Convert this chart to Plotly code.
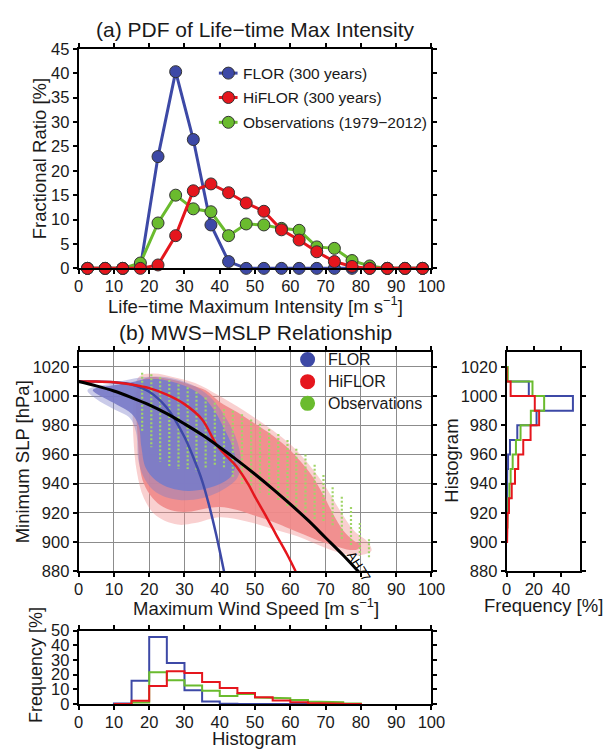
import plotly.graph_objects as go

W, H = 615, 756
FONT = "Liberation Sans, Arial, Helvetica, sans-serif"

# ---------------- (a) PDF of life-time maximum intensity ----------------
lmi_bins = [2.5, 7.5, 12.5, 17.5, 22.5, 27.5, 32.5, 37.5, 42.5, 47.5,
            52.5, 57.5, 62.5, 67.5, 72.5, 77.5, 82.5, 87.5, 92.5, 97.5]
pdf_flor = [0, 0, 0, 0.2, 22.9, 40.3, 26.4, 8.9, 1.4, 0,
            0, 0, 0, 0, 0, 0, 0, 0, 0, 0]
pdf_hiflor = [0, 0, 0, 0, 0.7, 6.7, 15.9, 17.3, 15.5, 13.4,
              11.7, 7.9, 5.8, 3.4, 1.4, 0.4, 0, 0, 0, 0]
pdf_obs = [0, 0, 0, 1.1, 9.3, 15.0, 12.2, 11.6, 6.7, 9.1,
           8.9, 8.2, 7.8, 4.4, 4.1, 1.6, 0.5, 0, 0, 0]

# ---------------- (b) MWS-MSLP relationship ----------------
# envelopes of the simulated storm clouds (wind m/s, pressure hPa)
hiflor_outer_x = [15.5, 17, 21, 27, 33, 40, 50, 60, 66, 70, 74, 78, 82, 83,
                  80, 75, 70, 62, 55, 48, 40, 33, 28, 22, 18.5, 16.5, 15.5]
hiflor_outer_y = [995, 1013, 1015.5, 1013, 1009, 1000, 985, 967, 951, 938, 922,
                  908, 900, 894, 891, 892, 896, 904, 909, 914, 917, 913, 912,
                  918, 930, 948, 972]
hiflor_core_x = [16.5, 18, 20, 24, 28, 32, 36, 40, 45, 50, 55, 60, 63, 66, 69,
                 72, 75, 78, 80, 79, 76, 72, 68, 64, 60, 55, 50, 45, 40, 36,
                 32, 28, 24, 21, 18.5, 17.3, 16.8, 16.3]
hiflor_core_y = [1004, 1011, 1013, 1012.5, 1010.5, 1007.5, 1004, 996, 989, 981,
                 973, 963, 955, 946, 934, 920, 908, 901, 898, 895, 895, 898,
                 901, 905, 909, 914, 918, 922, 924, 923, 921, 921, 924, 930,
                 940, 952, 970, 990]
flor_outer_x = [2.5, 10, 18, 25, 32, 37, 41, 44.5, 46, 45, 41, 35, 28, 22, 19,
                17, 16.3, 14.5, 10, 5]
flor_outer_y = [1004, 1009, 1013, 1013, 1008, 1000, 988, 972, 956, 944, 936,
                930, 929, 934, 942, 955, 975, 985, 991, 998]
flor_core_x = [5, 10, 15, 19, 23, 27, 31, 35, 38.5, 41, 43.5, 44.5, 43.5, 41,
               36, 31, 26, 22, 19, 17.8, 17, 15, 11, 7, 4]
flor_core_y = [1005.5, 1007.5, 1009.5, 1011.5, 1011.5, 1009.5, 1006, 1000, 990,
               979, 966, 955, 946, 941, 936.5, 935, 937, 942, 951, 965, 980,
               988, 994, 999, 1004]

# observed best-track columns (wind m/s, pressure range hPa)
obs_wind = [18.0, 20.6, 23.1, 25.7, 28.3, 30.9, 33.4, 36.0, 38.6, 41.2, 43.7,
            46.3, 48.9, 51.4, 54.0, 56.6, 59.2, 61.7, 64.3, 66.9, 69.4, 72.0,
            74.6, 77.2, 79.7, 82.3]
obs_pmax = [1016, 1015, 1013, 1011, 1008, 1006, 1003, 999, 995.5, 991, 990,
            987.5, 984, 981, 977.5, 974, 970, 964, 960, 953, 946, 937.5, 931,
            924, 913, 902]
obs_pmin = [975, 965, 955, 952, 950, 950, 948, 950, 953, 950, 944, 940, 937.5,
            934, 931, 928.6, 924, 922, 919.7, 915, 913, 910.8, 902, 897.4,
            890.7, 888.5]

# wind-pressure fits
fit_flor_x = [0, 5, 10, 15, 20, 25, 30, 33, 35, 37, 39, 41.2]
fit_flor_y = [1010, 1010, 1009.5, 1008, 1003, 992, 972, 955, 942, 925, 905, 880]
fit_hiflor_x = [0, 5, 10, 15, 20, 25, 30, 35, 39.3, 45, 48, 50, 53.3, 56, 59, 61.5]
fit_hiflor_y = [1010, 1010, 1009.5, 1008, 1005.5, 1001, 994.5, 984, 966, 951,
                940, 931, 917, 905, 892, 880]
fit_ah77_x = [0, 5, 10, 15, 20, 25, 30, 35, 40, 45, 50, 55, 60, 65, 70, 75, 80]
fit_ah77_y = [1010, 1007, 1003.5, 999, 994, 988, 981, 973.5, 965, 956, 946.5,
              936.5, 926, 915, 903, 891, 878]

# pressure histogram (bins of 10 hPa, top to bottom)
slp_edges = [1020, 1010, 1000, 990, 980, 970, 960, 950, 940, 930, 920, 910, 900]
slp_flor = [0, 16.3, 48.8, 22.0, 7.8, 2.4, 1.0, 0.4, 0.2, 0.1, 0, 0]
slp_hiflor = [0, 2.9, 20.7, 23.9, 17.6, 12.2, 8.5, 6.1, 3.7, 1.7, 0.7, 0.3]
slp_obs = [0.8, 19.0, 27.6, 17.8, 10.2, 6.8, 4.4, 2.9, 2.0, 1.2, 0.5, 0.1]

# wind histogram (bins of 5 m/s)
mws_edges = [10, 15, 20, 25, 30, 35, 40, 45, 50, 55, 60, 65, 70, 75, 80]
mws_flor = [0.3, 15.9, 45.6, 27.9, 9.3, 1.8, 0.2, 0, 0, 0, 0, 0, 0, 0]
mws_hiflor = [0, 2.2, 12.2, 22.3, 21.2, 15.0, 11.0, 7.5, 4.6, 2.4, 1.3, 0.7, 0.3, 0.1]
mws_obs = [0, 1.0, 21.7, 16.2, 12.6, 9.0, 5.5, 6.9, 4.5, 4.0, 2.7, 1.7, 1.2, 0.3]

BLUE = "#3d49a6"
RED = "#e5161d"
GREEN = "#6abb2e"
PINK = "rgb(240,138,138)"
LAV = "rgb(122,124,200)"
OBSG = "rgb(160,212,104)"


def xdom(a, b):
    return [a / W, b / W]


def ydom(top, bottom):
    return [1 - bottom / H, 1 - top / H]


def hsteps(edges, vals):
    xs, ys = [0], [edges[0]]
    for i, v in enumerate(vals):
        xs += [v, v]
        ys += [edges[i], edges[i + 1]]
    xs.append(0)
    ys.append(edges[-1])
    return xs, ys


def vsteps(edges, vals):
    xs, ys = [edges[0]], [0]
    for i, v in enumerate(vals):
        xs += [edges[i], edges[i + 1]]
        ys += [v, v]
    xs.append(edges[-1])
    ys.append(0)
    return xs, ys


fig = go.Figure()

# ---- panel (a)
for vals, col in [(pdf_flor, BLUE), (pdf_obs, GREEN), (pdf_hiflor, RED)]:
    fig.add_trace(go.Scatter(
        x=lmi_bins, y=vals, mode="lines+markers", xaxis="x", yaxis="y",
        line=dict(color=col, width=3),
        marker=dict(size=12, color=col, line=dict(color="#333", width=1)),
        cliponaxis=False, showlegend=False, hoverinfo="skip"))

# ---- panel (b) clouds
for xs, ys, col, op in [(hiflor_outer_x, hiflor_outer_y, PINK, 0.4),
                        (hiflor_core_x, hiflor_core_y, PINK, 0.92),
                        (flor_outer_x, flor_outer_y, LAV, 0.4),
                        (flor_core_x, flor_core_y, LAV, 0.92)]:
    fig.add_trace(go.Scatter(
        x=xs + [xs[0]], y=ys + [ys[0]], mode="lines", fill="toself",
        fillcolor=col, opacity=op, line=dict(width=0, shape="spline"),
        xaxis="x2", yaxis="y2", showlegend=False, hoverinfo="skip"))

ox, oy = [], []
for w, hi, lo in zip(obs_wind, obs_pmax, obs_pmin):
    ox += [w, w, None]
    oy += [hi, lo, None]
fig.add_trace(go.Scatter(
    x=ox, y=oy, mode="lines", xaxis="x2", yaxis="y2",
    line=dict(color=OBSG, width=2.2, dash="2px,2px"),
    showlegend=False, hoverinfo="skip"))

for xs, ys, col, wd in [(fit_flor_x, fit_flor_y, BLUE, 2.5),
                        (fit_hiflor_x, fit_hiflor_y, RED, 2.5),
                        (fit_ah77_x, fit_ah77_y, "black", 3)]:
    fig.add_trace(go.Scatter(
        x=xs, y=ys, mode="lines", line=dict(color=col, width=wd, shape="spline"),
        xaxis="x2", yaxis="y2", showlegend=False, hoverinfo="skip"))

# ---- pressure histogram
for vals, col in [(slp_flor, BLUE), (slp_obs, GREEN), (slp_hiflor, RED)]:
    xs, ys = hsteps(slp_edges, vals)
    fig.add_trace(go.Scatter(x=xs, y=ys, mode="lines", xaxis="x3", yaxis="y3",
                             line=dict(color=col, width=2), showlegend=False,
                             hoverinfo="skip"))

# ---- wind histogram
for vals, col in [(mws_flor, BLUE), (mws_obs, GREEN), (mws_hiflor, RED)]:
    xs, ys = vsteps(mws_edges, vals)
    fig.add_trace(go.Scatter(x=xs, y=ys, mode="lines", xaxis="x4", yaxis="y4",
                             line=dict(color=col, width=2), showlegend=False,
                             hoverinfo="skip"))

axis_common = dict(showline=True, linecolor="black", linewidth=2, mirror="allticks",
                   ticks="outside", ticklen=4, tickwidth=1.5, tickcolor="black",
                   zeroline=False, showgrid=False,
                   tickfont=dict(family=FONT, size=16.5, color="#1a1a1a"))
xtick = dict(ticklabelstandoff=-2)
grid = dict(showgrid=True, gridcolor="#8c8c8c", gridwidth=1.3)

fig.update_layout(
    width=W, height=H, margin=dict(l=0, r=0, t=0, b=0),
    paper_bgcolor="white", plot_bgcolor="white",
    font=dict(family=FONT, color="#1a1a1a"),
    xaxis=dict(domain=xdom(76, 440), range=[0, 100], dtick=10, anchor="y",
               **axis_common, **xtick),
    yaxis=dict(domain=ydom(40.7, 265.7), range=[0, 45], dtick=5, anchor="x", **axis_common),
    xaxis2=dict(domain=xdom(76, 440), range=[0, 100], dtick=10, anchor="y2",
                **{**axis_common, **grid, **xtick}),
    yaxis2=dict(domain=ydom(351.7, 576), range=[880, 1030], tick0=880, dtick=20,
                anchor="x2", **{**axis_common, **grid}),
    xaxis3=dict(domain=xdom(517.7, 593.3), range=[0, 54], dtick=20, anchor="y3",
                **axis_common, **xtick),
    yaxis3=dict(domain=ydom(351.7, 576), range=[880, 1030], tick0=880, dtick=20,
                anchor="x3", **axis_common),
    xaxis4=dict(domain=xdom(76, 440), range=[0, 100], dtick=10, anchor="y4",
                **axis_common, **xtick),
    yaxis4=dict(domain=ydom(636.7, 712), range=[0, 50], dtick=10, anchor="x4", **axis_common),
)


def label(text, px, py, size, angle=0, anchor="center"):
    fig.add_annotation(text=text, x=px / W, y=1 - py / H, xref="paper", yref="paper",
                       xanchor=anchor, yanchor="middle", showarrow=False,
                       textangle=angle, font=dict(family=FONT, size=size, color="#1a1a1a"))


label("(a) PDF of Life−time Max Intensity", 258, 21, 21)
label("Life−time Maximum Intensity [m s<sup>−1</sup>]", 258, 303, 18.5)
label("Fractional Ratio [%]", 35, 153, 18.5, angle=-90)
label("(b) MWS−MSLP Relationship", 258, 331, 21)
label("Maximum Wind Speed [m s<sup>−1</sup>]", 259, 613, 18.5)
label("Minimum SLP [hPa]", 19, 464, 18.5, angle=-90)
label("Histogram", 461, 463, 18.5, angle=-90)
label("Frequency [%]", 556, 611, 18.5)
label("Frequency [%]", 32, 672, 18, angle=-90)
label("Histogram", 257, 747, 18.5)

# AH77 tag along the black curve
fig.add_annotation(text="AH77", x=79.4, y=883, xref="x2", yref="y2", showarrow=False,
                   textangle=58, font=dict(family=FONT, size=13, color="black"))

# legend for panel (a): line + marker symbol
leg_a = [("FLOR (300 years)", BLUE, 0.889), ("HiFLOR (300 years)", RED, 0.778),
         ("Observations (1979−2012)", GREEN, 0.665)]
for txt, col, yy in leg_a:
    fig.add_shape(type="line", xref="x domain", yref="y domain", x0=0.3975, x1=0.4505,
                  y0=yy, y1=yy, line=dict(color=col, width=3))
    fig.add_shape(type="circle", xref="x domain", yref="y domain", xsizemode="pixel",
                  ysizemode="pixel", xanchor=0.4245, yanchor=yy, x0=-6, x1=6, y0=-6, y1=6,
                  fillcolor=col, line=dict(color="#333", width=1))
    fig.add_annotation(text=txt, xref="x domain", yref="y domain", x=0.46, y=yy,
                       xanchor="left", yanchor="middle", showarrow=False,
                       font=dict(family=FONT, size=15.5, color="#1a1a1a"))

# legend for panel (b): filled dots
leg_b = [("FLOR", BLUE, 0.9675), ("HiFLOR", RED, 0.866), ("Observations", GREEN, 0.767)]
for txt, col, yy in leg_b:
    fig.add_shape(type="circle", xref="x2 domain", yref="y2 domain", xsizemode="pixel",
                  ysizemode="pixel", xanchor=0.649, yanchor=yy, x0=-7.5, x1=7.5,
                  y0=-7.5, y1=7.5, fillcolor=col, line=dict(width=0))
    fig.add_annotation(text=txt, xref="x2 domain", yref="y2 domain", x=0.7005, y=yy,
                       xanchor="left", yanchor="middle", showarrow=False,
                       font=dict(family=FONT, size=16, color="#1a1a1a"))

fig.write_html("out.html")
